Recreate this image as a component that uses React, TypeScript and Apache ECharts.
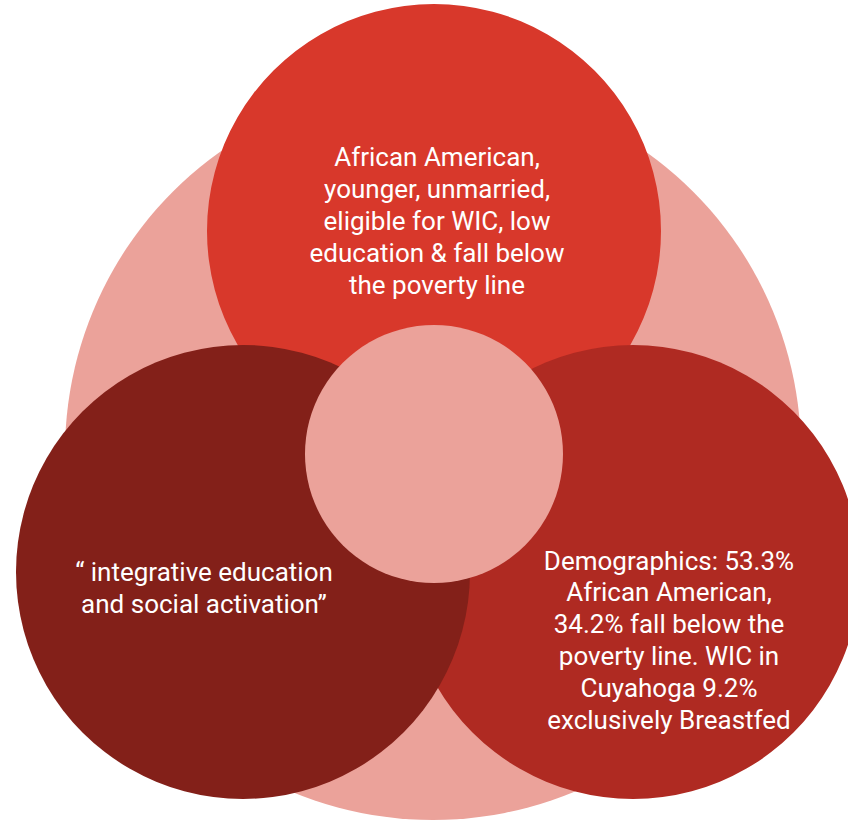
import React, { useEffect, useRef } from "react";
import * as echarts from "echarts";

// Circles of the diagram (x, y in page units, radius in page units)
const circleNames = ["Outer", "Top", "Right", "Left", "Center"];
const circleX = [433, 434, 633, 243, 434];
const circleY = [452, 231, 572, 572, 454];
const circleR = [368, 227, 227, 227, 129];
const circleColors = ["#EBA29A", "#D8382B", "#AF2A22", "#832019", "#EBA29A"];

// Text blocks
const labelTexts = [
  "African American,\nyounger, unmarried,\neligible for WIC, low\neducation & fall below\nthe poverty line",
  "“ integrative education\nand social activation”",
  "Demographics: 53.3%\nAfrican American,\n34.2% fall below the\npoverty line. WIC in\nCuyahoga 9.2%\nexclusively Breastfed",
];
const labelX = [437, 204, 669];
const labelY = [221, 588, 640];

const W = 848;
const H = 822;

export default function App() {
  const ref = useRef<HTMLDivElement>(null);
  useEffect(() => {
    if (!ref.current) return;
    const chart = echarts.init(ref.current, undefined, { renderer: "svg" });
    const circleSeries = circleNames.map((name, i) => ({
      type: "scatter",
      name,
      z: 2 + i,
      silent: true,
      symbol: "circle",
      symbolSize: circleR[i] * 2,
      itemStyle: { color: circleColors[i], opacity: 1 },
      data: [[circleX[i], circleY[i]]],
    }));
    const labelSeries = {
      type: "scatter",
      name: "labels",
      z: 20,
      silent: true,
      symbolSize: 0,
      itemStyle: { opacity: 1 },
      data: labelTexts.map((t, i) => ({ value: [labelX[i], labelY[i]], name: t })),
      label: {
        show: true,
        position: "inside",
        formatter: (p: any) => p.name,
        color: "#ffffff",
        opacity: 1,
        fontFamily: "Roboto",
        fontSize: 26,
        lineHeight: 31.8,
        align: "center",
        verticalAlign: "middle",
      },
    };
    chart.setOption({
      animation: false,
      backgroundColor: "#ffffff",
      grid: { left: 0, right: 0, top: 0, bottom: 0 },
      xAxis: { type: "value", min: 0, max: W, show: false },
      yAxis: { type: "value", min: 0, max: H, inverse: true, show: false },
      series: [...circleSeries, labelSeries],
    });
    return () => chart.dispose();
  }, []);
  return (
    <div
      ref={ref}
      style={{ position: "fixed", left: 0, top: 0, width: W, height: H }}
    />
  );
}
